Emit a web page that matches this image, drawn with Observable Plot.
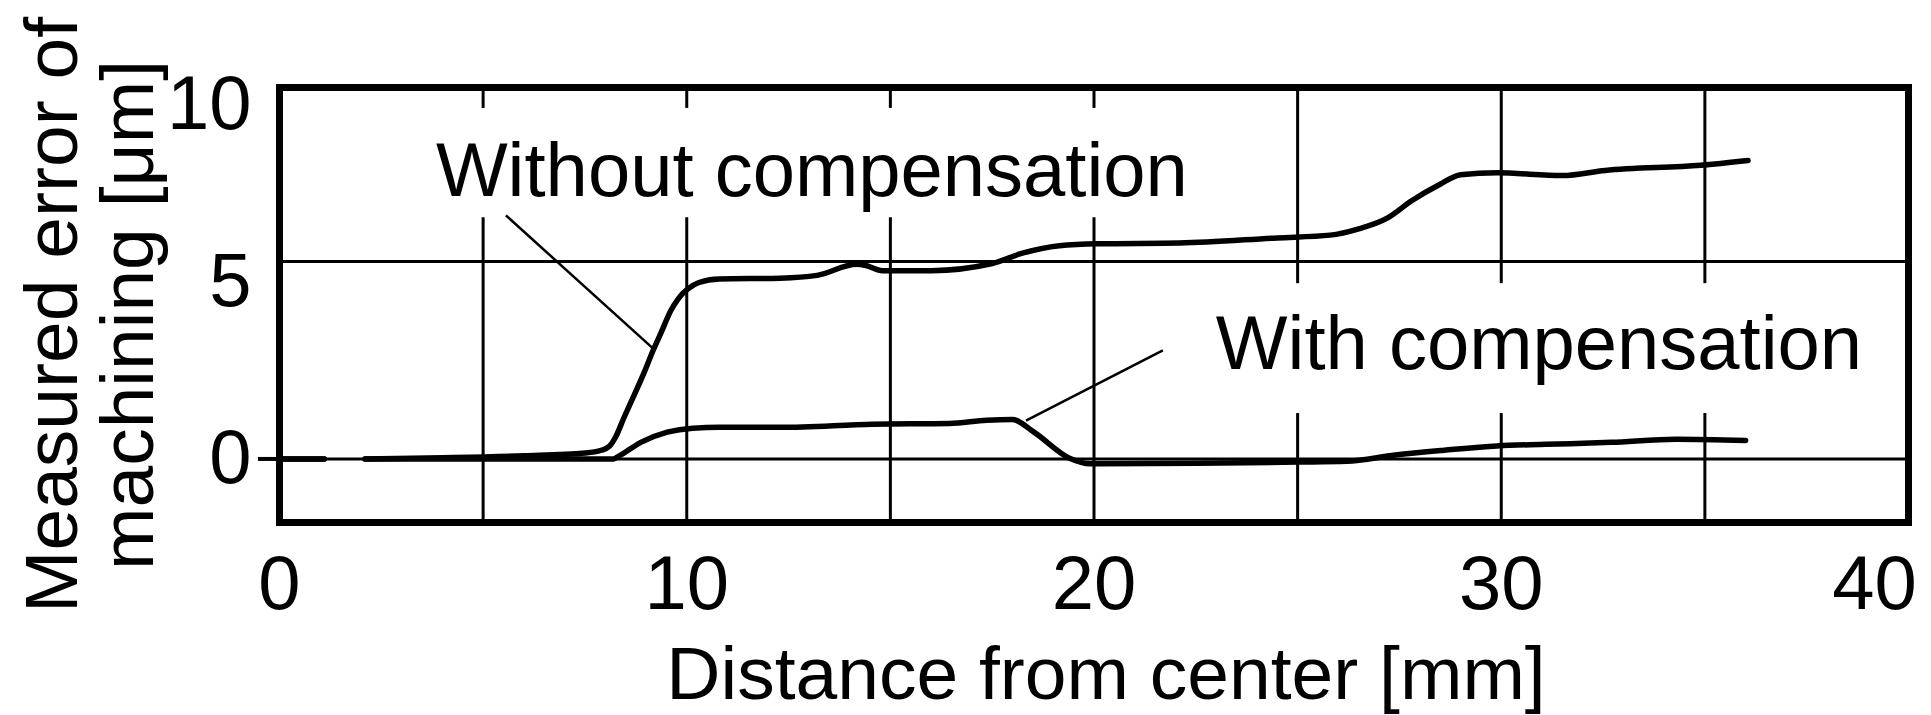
<!DOCTYPE html>
<html><head><meta charset="utf-8">
<script src="https://cdn.jsdelivr.net/npm/d3@7"></script>
<script src="https://cdn.jsdelivr.net/npm/@observablehq/plot@0.6"></script>
<style>html,body{margin:0;padding:0;background:#fff;} svg{display:block}</style>
</head><body><div id="chart"></div>
<script>
// ---- data ----
const withoutX = [0, 1.1, NaN, 2.1, 4, 6, 7.5, 7.9, 8.1, 8.25, 8.46, 8.7, 8.95, 9.17, 9.37, 9.61, 9.8, 10.02, 10.3, 10.8, 12.3, 13.2, 14.17, 14.4, 14.8, 16.0, 17.5, 18.2, 19.15, 20.1, 22.1, 24.5, 25.8, 26.5, 27.2, 27.8, 28.5, 29.0, 29.9, 31.5, 32.55, 34.9, 36.06];
const withoutY = [0, 0, NaN, 0, 0.03, 0.08, 0.15, 0.22, 0.32, 0.55, 1.05, 1.6, 2.18, 2.74, 3.2, 3.76, 4.07, 4.3, 4.47, 4.56, 4.58, 4.65, 4.93, 4.9, 4.77, 4.77, 4.95, 5.2, 5.4, 5.45, 5.47, 5.6, 5.67, 5.83, 6.1, 6.54, 6.96, 7.2, 7.25, 7.18, 7.31, 7.44, 7.56];
const withX = [0, 1.1, NaN, 2.1, 8.2, 8.3, 8.87, 9.52, 10.15, 10.8, 12.3, 14.57, 16.45, 17.36, 18.0, 18.5, 19.4, 19.9, 22.5, 25, 26.2, 27.4, 28.6, 29.9, 31.1, 32.7, 34.3, 36.0];
const withY = [0, 0, NaN, 0, 0.0, 0.05, 0.42, 0.68, 0.78, 0.8, 0.8, 0.88, 0.9, 0.98, 1.0, 0.7, 0.02, -0.12, -0.11, -0.08, -0.06, 0.1, 0.22, 0.33, 0.37, 0.42, 0.5, 0.47];

const xTicks = [0, 10, 20, 30];
const xLastTick = [40];
const xGrid = [5, 10, 15, 20, 25, 30, 35];
const yGrid = [0, 5];
const yTopLabel = ["10"];
const xTitle = ["Distance from center [mm]"];
const yTitle = ["Measured error of\nmachining [μm]"];

const labelText = ["Without compensation", "With compensation"];
const labelX = [3.84, 22.99];
const labelY = [6.67, 2.29];
const leaderX1 = [5.56, 21.69];
const leaderY1 = [6.17, 2.75];
const leaderX2 = [9.17, 18.33];
const leaderY2 = [2.80, 0.97];
const boxX1 = [3.59, 21.77];
const boxX2 = [22.5, 39.3];
const boxY1 = [6.11, 1.15];
const boxY2 = [8.88, 4.44];

// ---- tables built from the arrays ----
const rows = [
  ...withoutX.map((x, i) => ({series: "Without compensation", x, y: withoutY[i]})),
  ...withX.map((x, i) => ({series: "With compensation", x, y: withY[i]}))
];
const labels = labelText.map((t, i) => ({
  text: t, x: labelX[i], y: labelY[i],
  lx1: leaderX1[i], ly1: leaderY1[i], lx2: leaderX2[i], ly2: leaderY2[i],
  bx1: boxX1[i], bx2: boxX2[i], by1: boxY1[i], by2: boxY2[i]
}));

const FS = 76;
const chart = Plot.plot({
  width: 1931,
  height: 715,
  marginLeft: 279,
  marginRight: 23,
  marginTop: 87,
  marginBottom: 193,
  x: {domain: [0, 40], axis: null},
  y: {domain: [-1.61, 9.41], axis: null},
  style: {fontFamily: "'Liberation Sans', Arial, sans-serif", fontSize: FS + "px", color: "black", background: "white"},
  marks: [
    Plot.ruleX(xGrid, {stroke: "black", strokeWidth: 3}),
    Plot.ruleY(yGrid, {stroke: "black", strokeWidth: 3}),
    Plot.rect(labels, {x1: "bx1", x2: "bx2", y1: "by1", y2: "by2", fill: "white"}),
    Plot.link(labels, {x1: "lx1", y1: "ly1", x2: "lx2", y2: "ly2", stroke: "black", strokeWidth: 2.5}),
    Plot.line(rows, {x: "x", y: "y", z: "series", stroke: "black", strokeWidth: 5.5, curve: "monotone-x", strokeLinejoin: "round", strokeLinecap: "round"}),
    Plot.text(labels, {x: "x", y: "y", text: "text", textAnchor: "start", lineAnchor: "bottom", fontSize: FS, fill: "black"}),
    Plot.frame({stroke: "black", strokeWidth: 7}),
    Plot.axisX(xTicks, {tickSize: 0, tickPadding: 33, fontSize: FS, tickFormat: d => String(d), label: null}),
    Plot.axisX(xLastTick, {tickSize: 0, tickPadding: 33, dx: -34, fontSize: FS, tickFormat: d => String(d), label: null}),
    Plot.axisY([0], {tickSize: 21, tickPadding: 7, strokeWidth: 4, fontSize: FS, tickFormat: d => String(d), label: null}),
    Plot.axisY([5], {tickSize: 0, tickPadding: 28, dy: 20, fontSize: FS, tickFormat: d => String(d), label: null}),
    Plot.text(yTopLabel, {frameAnchor: "top-left", text: d => d, textAnchor: "end", lineAnchor: "middle", dx: -28, dy: 17, fontSize: FS}),
    Plot.text(xTitle, {frameAnchor: "bottom", text: d => d, textAnchor: "middle", lineAnchor: "bottom", dx: 12, dy: 176, fontSize: 75}),
    Plot.text(yTitle, {frameAnchor: "left", text: d => d, rotate: -90, textAnchor: "middle", lineAnchor: "middle", lineHeight: 1.02, dx: -189, dy: 10, fontSize: 75})
  ]
});
document.getElementById("chart").appendChild(chart);
</script>
</body></html>
